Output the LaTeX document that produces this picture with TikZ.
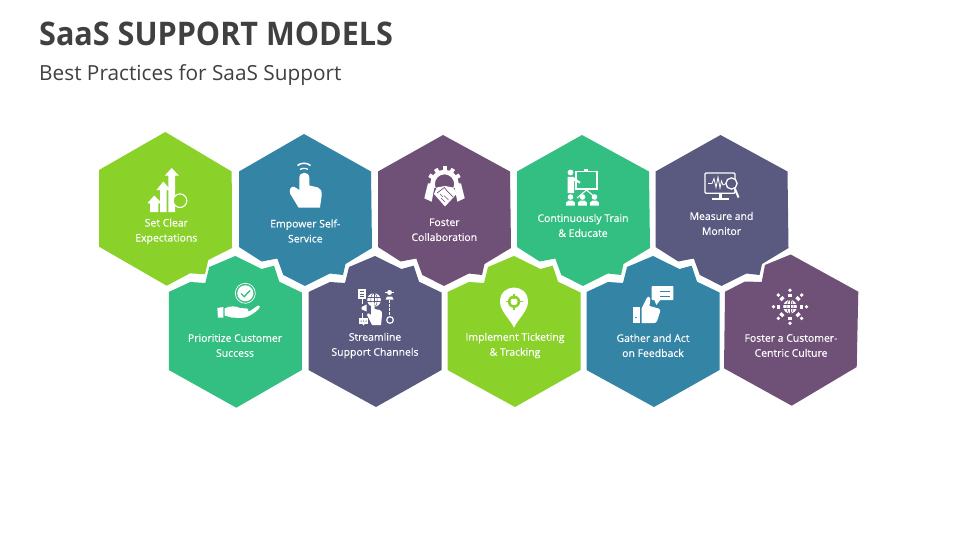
\documentclass[tikz,border=0pt]{standalone}
\usepackage{fontspec}
\setmainfont{Open Sans}
\newfontfamily\labelfont[FakeBold=0.35]{Open Sans}
\newfontfamily\titlefont[FakeStretch=0.94]{Open Sans Bold}
\definecolor{cgreen}{HTML}{8AD129}
\definecolor{cblue}{HTML}{3384A5}
\definecolor{cplum}{HTML}{6F5076}
\definecolor{cteal}{HTML}{34BF82}
\definecolor{cindigo}{HTML}{5A5A80}
\definecolor{ctext}{HTML}{404040}
\tikzset{
  hexlabel/.style={text=white,font=\labelfont\fontsize{10.45}{15}\selectfont,align=center,inner sep=0pt},
  ico/.style={fill=white,draw=none},
}
% top-row hexagon: #1 centre x, #2 top y, #3 colour
\newcommand{\tophex}[3]{\fill[#3,shift={(#1,0)}] (-1,#2) -- (66,171.5) -- (67,248) -- (40.5,264) -- (38,275) -- (25,273.5) -- (0,285.9) -- (-21.7,275) -- (-27.7,258.5) -- (-43.3,261.5) -- (-66,247) -- (-66,171.5) -- cycle;}
% bottom-row hexagon
\newcommand{\bothex}[3]{\fill[#3,shift={(#1,0)}] (0,256) -- (26.4,269) -- (38.7,265.7) -- (44,281.7) -- (66.5,292.5) -- (66.5,370) -- (1,#2) -- (-66.5,370) -- (-66.5,292) -- (-45,282) -- (-30,283) -- (-26,267) -- cycle;}
\begin{document}
\begin{tikzpicture}[x=1pt,y=-1pt]
\useasboundingbox (0,0) rectangle (960,540);
\fill[white] (0,0) rectangle (960,540);
\node[anchor=west,inner sep=0pt,text=ctext,font=\titlefont\fontsize{32.5}{36}\selectfont] (title) at (39,34) {SaaS SUPPORT MODELS};
\node[anchor=west,inner sep=0pt,text=ctext,font=\fontsize{20.8}{24}\selectfont] (subtitle) at (39,75) {Best Practices for SaaS Support};
% hexagons, top row
\fill[cgreen] (165.3,132) -- (231.7,171.5) -- (232,248) -- (208.3,260) -- (205,274.3) -- (190,273.3) -- (166.7,285.7) -- (99,246.7) -- (99,170) -- cycle;
\tophex{305}{134}{cblue}
\tophex{444}{135}{cplum}
\tophex{583}{135}{cteal}
\tophex{721.5}{135}{cindigo}
% bottom row
\bothex{235.3}{407.7}{cteal}
\bothex{375}{407}{cindigo}
\bothex{514}{407}{cgreen}
\bothex{653}{407}{cblue}
\fill[cplum] (790.7,254.5) -- (858.3,291.7) -- (856.7,367) -- (791.7,405.7) -- (724,368.3) -- (725,291.7) -- (745,281.5) -- (761.7,282) -- (765,265) -- cycle;
% labels
\node[hexlabel] (t1) at (166.3,231.3) {Set Clear\\Expectations};
\node[hexlabel] (t2) at (305.3,231) {Empower Self-\\Service};
\node[hexlabel] (t3) at (444.3,229.8) {Foster\\Collaboration};
\node[hexlabel] (t4) at (583,225.5) {Continuously Train\\\& Educate};
\node[hexlabel] (t5) at (721.5,223.5) {Measure and\\Monitor};
\node[hexlabel] (t6) at (235,345.5) {Prioritize Customer\\Success};
\node[hexlabel] (t7) at (375,345.5) {Streamline\\Support Channels};
\node[hexlabel] (t8) at (515,345.5) {Implement Ticketing\\\& Tracking};
\node[hexlabel] (t9) at (653,345.5) {Gather and Act\\on Feedback};
\node[hexlabel] (t10) at (791,345.5) {Foster a Customer-\\Centric Culture};
% icon 1: arrows
\fill[ico] (171.7,168) -- (179,175.7) -- (175,175.7) -- (175,212) -- (168.3,212) -- (168.3,175.7) -- (164.7,175.7) -- cycle;
\fill[ico] (163.3,181.5) -- (170.7,190) -- (166.7,190) -- (166.7,212) -- (160,212) -- (160,190) -- (156.5,190) -- cycle;
\fill[ico] (154.3,195.5) -- (161.7,203.3) -- (158.3,203.3) -- (158.3,212) -- (150,212) -- (150,203.3) -- (147.3,203.3) -- cycle;
\draw[white,line width=1.1pt,fill=cgreen] (180,200.7) circle (6.8);
% icon 2: hand
\fill[ico] (299.3,178) .. controls (299.3,171) and (309.3,171) .. (309.3,178) -- (309.5,185.5) -- (318,187.5) .. controls (321,188.5) and (322,191) .. (321.6,196) -- (320,207.5) -- (298.5,207.5) -- (290.3,194) .. controls (288.5,190) and (291,185.5) .. (294.5,187) -- (299.3,190) -- cycle;
\draw[white,line width=1.5pt] (297.5,165.5) .. controls (301,162.5) and (307,162.5) .. (310.5,165.5);
\draw[white,line width=1.3pt] (300,169.5) .. controls (302,168) and (306,168) .. (308,169.5);
% icon 3: handshake and gear
\begin{scope}
\clip (425,160) rectangle (465,187);
\draw[white,line width=4.6pt] (444.5,184) circle (12);
\end{scope}
\foreach \a in {-60,-30,0,30,60}
  \fill[white,shift={(444.5,184)},rotate=\a] (-2,-17.5) rectangle (2,-13);
\fill[ico] (428,183.3) -- (435,184) -- (431.7,201.7) -- (424.3,198.3) -- cycle;
\fill[ico] (461,183.3) -- (454,184) -- (457.3,201.7) -- (464.7,198.3) -- cycle;
\fill[ico] (436.7,187.5) -- (445,186) -- (453,187.5) -- (457,193.5) -- (445,206.5) -- (434,194) -- cycle;
\draw[cplum,line width=.7pt] (437,193) -- (444.5,187.5) -- (447,191) -- (453,197);
\draw[cplum,line width=.6pt] (441,198) -- (445,202) (444,195.5) -- (448.5,200) (440,194) -- (443,197);
% icon 4: teacher
\fill[ico] (570.5,172.5) circle (2.9);
\fill[ico] (567.5,176.8) -- (573,176.8) -- (580.5,182) -- (579.5,183.5) -- (574,180.5) -- (574,193) -- (567.5,193) -- cycle;
\draw[white,line width=1.1pt] (576,171.5) rectangle (597,189);
\fill[ico] (583.5,169.5) rectangle (588,171.5);
\draw[white,line width=1.1pt] (577,198) -- (586.5,190) -- (596,198);
\foreach \x in {570.5,582.5,594.5} {
  \fill[ico] (\x,197) circle (2.8);
  \fill[ico] (\x-4.3,205.7) -- (\x-4.3,202.5) -- (\x-2,200.5) -- (\x+2,200.5) -- (\x+4.3,202.5) -- (\x+4.3,205.7) -- cycle;
}
% icon 5: monitor
\draw[white,line width=1.3pt,rounded corners=1pt] (705,173) rectangle (735,193.3);
\fill[ico] (718.5,193) rectangle (721.5,198.5);
\fill[ico] (711.5,198.3) rectangle (728.5,200);
\draw[white,line width=.8pt] (708,183.5) -- (712,183.5) -- (714,178.5) -- (716,187.5) -- (718,177) -- (720,188) -- (721.5,181) -- (723,185) -- (726,183.5);
\draw[white,line width=1.3pt,fill=cindigo] (731.5,183.5) circle (5.6);
\draw[white,line width=2pt] (735,189) -- (738.5,197.5);
% icon 6: hand and check
\draw[white,line width=.7pt] (245.3,293.3) circle (10);
\fill[ico] (245.3,293.3) circle (8);
\draw[cteal,line width=1.4pt] (241,293.5) -- (244.2,296.7) -- (250,290.5);
\fill[ico] (217.3,308) -- (223.3,307) -- (223.3,317.7) -- (218,317.7) -- cycle;
\fill[ico] (224.5,308.5) .. controls (230,305.5) and (236,306) .. (240,308) -- (247,308.5) .. controls (249.5,309) and (249,311) .. (247,311.5) -- (250,311) -- (258,305.5) .. controls (260,305) and (260.5,307) .. (259,308.5) .. controls (254,314) and (246,318.5) .. (240,318) -- (231.5,317.5) -- (224.5,315.5) -- cycle;
% icon 7: channels
\fill[ico] (358.3,289) rectangle (366,299);
\draw[cindigo,line width=.6pt] (360,291.5) -- (364.3,291.5) (360,294) -- (364.3,294) (360,296.5) -- (364.3,296.5);
\draw[white,line width=.7pt] (362,299) -- (362,304);
\fill[ico] (374,300) circle (6.8);
\draw[cindigo,line width=.5pt] (367,297.5) -- (381,297.5) (367,301.5) -- (381,301.5) (374,293) -- (374,307);
\draw[cindigo,line width=.5pt] (374,300) ellipse (3.2 and 6.8);
\fill[ico] (371,303) .. controls (371,301) and (374.5,301) .. (374.5,303) -- (374.5,309) -- (380,310) .. controls (382,310.5) and (382,313) .. (382,315) -- (381,325) -- (372,325) -- (367,315) .. controls (366.5,313) and (368.5,312.5) .. (371,315) -- cycle;
\fill[ico] (361.7,307) -- (366.7,304.5) -- (366.7,311.5) -- (361.7,309.5) -- cycle;
\fill[ico] (358.5,318.3) rectangle (368.3,323.5);
\fill[ico] (362,323.5) -- (365,323.5) -- (363.5,325.5) -- cycle;
\fill[cindigo] (360.5,320.5) rectangle (361.5,321.5) (363,320.5) rectangle (364,321.5) (365.5,320.5) rectangle (366.5,321.5);
\draw[white,line width=.7pt] (362,313) -- (362,318);
\fill[ico] (389.5,292.5) circle (2.5);
\fill[ico] (385,291.5) rectangle (394,292.5);
\fill[ico] (385.5,299.5) -- (387,296.5) -- (392,296.5) -- (393.5,299.5) -- cycle;
\draw[white,line width=.8pt,dash pattern=on 2.5pt off 1.5pt] (389.7,300) -- (389.7,316);
\draw[white,line width=1.2pt] (390,320) circle (3.3);
% icon 8: pin
\fill[ico] (514,327.7) .. controls (510,319) and (500,311) .. (500,301.7) .. controls (500,282.8) and (528,282.8) .. (528,301.7) .. controls (528,311) and (518,319) .. (514,327.7) -- cycle;
\fill[cgreen] (514,301.7) circle (6.2);
\fill[ico] (514,301.7) circle (3.6);
\draw[cgreen,line width=1.1pt] (514,293.5) -- (514,298.5) (514,305) -- (514,310) (505.5,301.7) -- (510.5,301.7) (517.5,301.7) -- (522.5,301.7);
% icon 9: thumbs up and bubble
\fill[ico,rounded corners=.8pt] (651.7,286) rectangle (673.3,300);
\fill[ico] (654,299) -- (661,299) -- (656.3,305) -- cycle;
\draw[cblue,line width=.8pt] (660,291.7) -- (670,291.7) (660,296) -- (670,296);
\fill[ico] (633.3,306.7) rectangle (640,322.7);
\fill[cblue] (636,317.5) circle (.8);
\fill[ico] (641.5,308.5) -- (646.5,298.5) .. controls (648,295.5) and (650.5,296.5) .. (650.3,299) -- (649.5,306) -- (658.5,308.5) .. controls (660.5,309) and (660.5,310.5) .. (660,312) -- (657,321) .. controls (656.5,322.5) and (655,323) .. (654,323) -- (641.5,323) -- cycle;
% icon 10: globe and people
\fill[ico] (790,306.7) circle (6.8);
\draw[cplum,line width=.5pt] (783,304.5) -- (797,304.5) (783,308.5) -- (797,308.5) (790,300) -- (790,313.5);
\draw[cplum,line width=.5pt] (790,306.7) ellipse (3.2 and 6.8);
\foreach \a in {0,45,...,315} {
  \fill[ico,shift={(790,306.7)}] (\a:16.5) circle (1.9);
  \fill[ico,shift={(790,306.7)},rotate=\a] (9.8,-2.1) rectangle (13,2.1);
}
\end{tikzpicture}
\end{document}
